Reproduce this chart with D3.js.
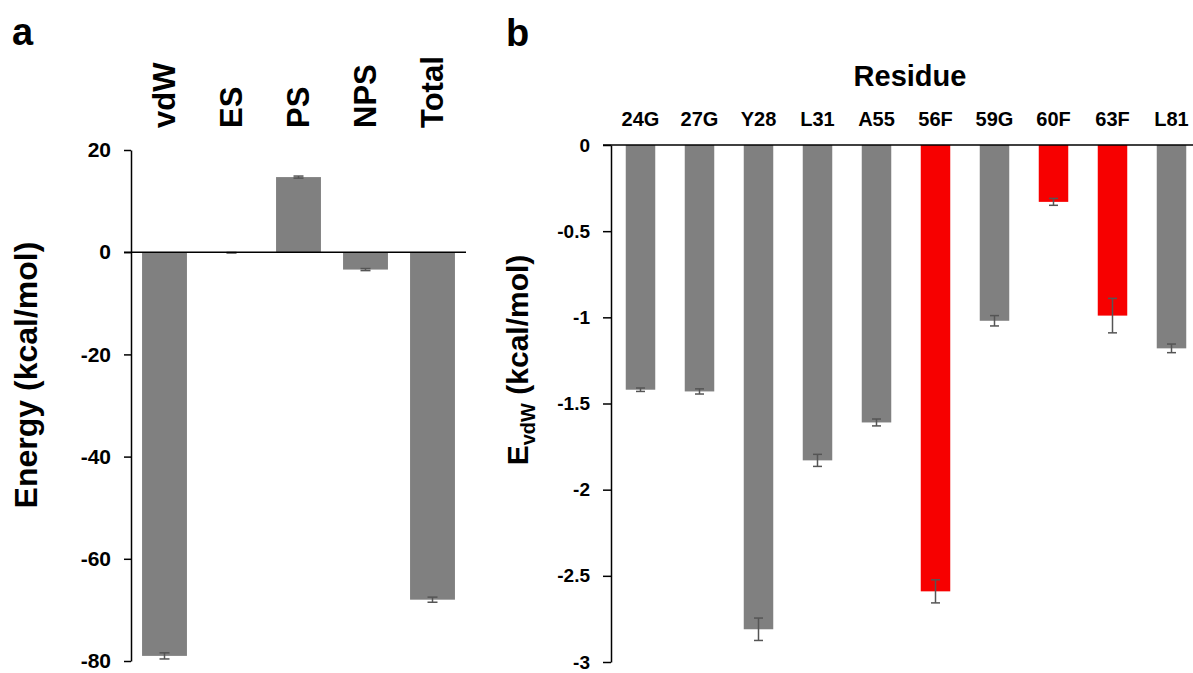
<!DOCTYPE html>
<html>
<head>
<meta charset="utf-8">
<script src="https://cdn.jsdelivr.net/npm/d3@7"></script>
<style>
  body { margin: 0; background: #fff; }
  svg text { font-family: "Liberation Sans", Arial, Helvetica, sans-serif; font-weight: bold; fill: #000; }
  .axis path, .axis line { stroke: #000; stroke-width: 1.5; }
</style>
</head>
<body>
<div id="chart"></div>
<script>
// panel a: energy components
var aCats = ["vdW", "ES", "PS", "NPS", "Total"];
var aVals = [-79.0, -0.1, 14.7, -3.4, -68.0];
var aErrs = [0.6, 0.05, 0.2, 0.2, 0.5];
var aTicks = [20, 0, -20, -40, -60, -80];

// panel b: per-residue vdW energy
var bCats = ["24G", "27G", "Y28", "L31", "A55", "56F", "59G", "60F", "63F", "L81"];
var bVals = [-1.42, -1.43, -2.81, -1.83, -1.61, -2.59, -1.02, -0.33, -0.99, -1.18];
var bErrs = [0.01, 0.015, 0.065, 0.035, 0.02, 0.067, 0.03, 0.02, 0.1, 0.025];
var bRed = ["56F", "60F", "63F"];
var bTicks = [0, -0.5, -1, -1.5, -2, -2.5, -3];

var W = 1193, H = 673;
var svg = d3.select("#chart").append("svg")
    .attr("width", W)
    .attr("height", H);

var grey = "#808080", red = "#f70000", errCol = "#555";

// ---------- panel a ----------
var xa = d3.scaleBand().domain(aCats).range([131, 466]).paddingInner(0.33).paddingOuter(0.165);
var ya = d3.scaleLinear().domain([-80, 20]).range([661, 150]);

var ga = svg.append("g");

ga.selectAll("rect.bar")
    .data(aVals)
  .enter().append("rect")
    .attr("class", "bar")
    .attr("x", function(d, i) { return xa(aCats[i]); })
    .attr("width", xa.bandwidth())
    .attr("y", function(d) { return ya(Math.max(0, d)); })
    .attr("height", function(d) { return Math.abs(ya(d) - ya(0)); })
    .attr("fill", grey);

// error bars
var ea = ga.selectAll("g.err").data(aVals).enter().append("g")
    .attr("class", "err")
    .attr("transform", function(d, i) { return "translate(" + (xa(aCats[i]) + xa.bandwidth() / 2) + ",0)"; });
ea.append("line")
    .attr("y1", function(d, i) { return ya(d - aErrs[i]); })
    .attr("y2", function(d, i) { return ya(d + aErrs[i]); })
    .attr("stroke", errCol).attr("stroke-width", 1.5);
ea.selectAll("line.cap").data(function(d, i) { return [d - aErrs[i], d + aErrs[i]]; })
  .enter().append("line")
    .attr("class", "cap")
    .attr("x1", -5).attr("x2", 5)
    .attr("y1", function(v) { return ya(v); })
    .attr("y2", function(v) { return ya(v); })
    .attr("stroke", errCol).attr("stroke-width", 1.5);

// y axis
ga.append("g")
    .attr("class", "axis")
    .attr("transform", "translate(131,0)")
    .call(d3.axisLeft(ya).tickValues(aTicks).tickSizeInner(7).tickSizeOuter(0).tickPadding(13)
      .tickFormat(function(d) { return String(d); }))
    .call(function(g) { g.selectAll("text").style("font-size", "21px"); });

// zero line
ga.append("line")
    .attr("x1", 124).attr("x2", 466)
    .attr("y1", ya(0)).attr("y2", ya(0))
    .attr("stroke", "#000").attr("stroke-width", 1.5);

// category labels (rotated, on top)
ga.selectAll("text.cat")
    .data(aCats)
  .enter().append("text")
    .attr("class", "cat")
    .attr("transform", function(d) { return "translate(" + (xa(d) + xa.bandwidth() / 2) + ",128) rotate(-90)"; })
    .attr("dy", "0.35em")
    .attr("text-anchor", "start")
    .style("font-size", "31px")
    .text(function(d) { return d; });

ga.append("text")
    .attr("transform", "translate(37,375) rotate(-90)")
    .attr("text-anchor", "middle")
    .style("font-size", "32px")
    .text("Energy (kcal/mol)");

svg.append("text")
    .attr("x", 12).attr("y", 45)
    .style("font-size", "38px")
    .text("a");

// ---------- panel b ----------
var xb = d3.scaleBand().domain(bCats).range([611, 1201]).paddingInner(0.5).paddingOuter(0.25);
var yb = d3.scaleLinear().domain([-3, 0]).range([662, 145]);

var gb = svg.append("g");

gb.selectAll("rect.bar")
    .data(bVals)
  .enter().append("rect")
    .attr("class", "bar")
    .attr("x", function(d, i) { return xb(bCats[i]); })
    .attr("width", xb.bandwidth())
    .attr("y", function(d) { return yb(Math.max(0, d)); })
    .attr("height", function(d) { return Math.abs(yb(d) - yb(0)); })
    .attr("fill", function(d, i) { return bRed.indexOf(bCats[i]) >= 0 ? red : grey; });

var eb = gb.selectAll("g.err").data(bVals).enter().append("g")
    .attr("class", "err")
    .attr("transform", function(d, i) { return "translate(" + (xb(bCats[i]) + xb.bandwidth() / 2) + ",0)"; });
eb.append("line")
    .attr("y1", function(d, i) { return yb(d - bErrs[i]); })
    .attr("y2", function(d, i) { return yb(d + bErrs[i]); })
    .attr("stroke", errCol).attr("stroke-width", 1.5);
eb.selectAll("line.cap").data(function(d, i) { return [d - bErrs[i], d + bErrs[i]]; })
  .enter().append("line")
    .attr("class", "cap")
    .attr("x1", -4.5).attr("x2", 4.5)
    .attr("y1", function(v) { return yb(v); })
    .attr("y2", function(v) { return yb(v); })
    .attr("stroke", errCol).attr("stroke-width", 1.5);

gb.append("g")
    .attr("class", "axis")
    .attr("transform", "translate(611,0)")
    .call(d3.axisLeft(yb).tickValues(bTicks).tickSizeInner(8).tickSizeOuter(0).tickPadding(13)
      .tickFormat(function(d) { return String(d); }))
    .call(function(g) { g.selectAll("text").style("font-size", "19px"); });

gb.append("line")
    .attr("x1", 603).attr("x2", W)
    .attr("y1", yb(0)).attr("y2", yb(0))
    .attr("stroke", "#000").attr("stroke-width", 1.5);

gb.selectAll("text.cat")
    .data(bCats)
  .enter().append("text")
    .attr("class", "cat")
    .attr("x", function(d) { return xb(d) + xb.bandwidth() / 2; })
    .attr("y", 126)
    .attr("text-anchor", "middle")
    .style("font-size", "20px")
    .text(function(d) { return d; });

gb.append("text")
    .attr("x", 910).attr("y", 86)
    .attr("text-anchor", "middle")
    .style("font-size", "29px")
    .text("Residue");

var yt = gb.append("text")
    .attr("transform", "translate(528,360) rotate(-90)")
    .attr("text-anchor", "middle")
    .style("font-size", "30px");
yt.append("tspan").text("E");
yt.append("tspan").attr("dy", 7).style("font-size", "20px").text("vdW");
yt.append("tspan").attr("dy", -7).text(" (kcal/mol)");

svg.append("text")
    .attr("x", 506).attr("y", 46)
    .style("font-size", "38px")
    .text("b");
</script>
</body>
</html>
